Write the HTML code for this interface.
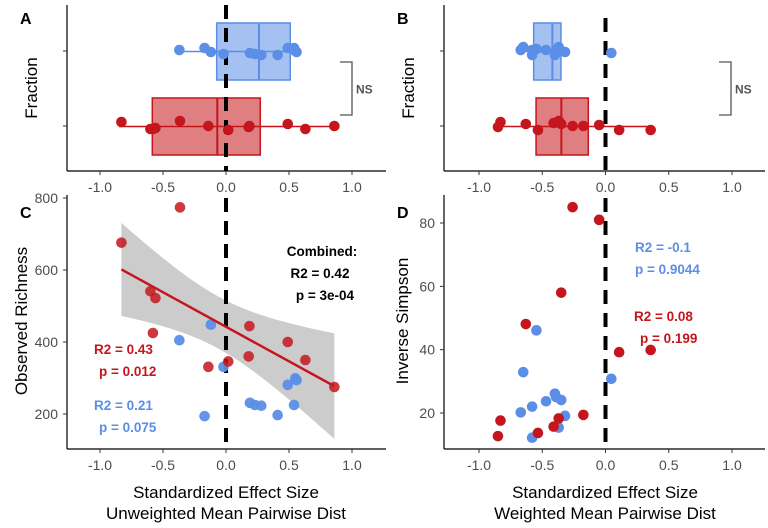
<!DOCTYPE html>
<html><head><meta charset="utf-8"><style>
body{margin:0;background:#fff}
svg{display:block;font-family:"Liberation Sans",Arial,sans-serif}
.tk{font-size:14px;fill:#4d4d4d}
.ttl{font-size:17px;fill:#000}
.pl{font-size:16px;font-weight:bold;fill:#000}
.ann{font-size:13.5px;font-weight:bold}
</style></head><body>
<svg id="s" width="768" height="528" viewBox="0 0 768 528"></svg>
<script>
// Panel C data (unweighted)
const cRedX=[-0.83,-0.365,-0.60,-0.56,-0.58,-0.14,0.018,0.186,0.18,0.49,0.63,0.86];
const cRedY=[676,774,541,522,425,331,346,444,360,400,350,275];
const cBlueX=[-0.37,-0.12,-0.02,-0.17,0.19,0.23,0.28,0.41,0.54,0.49,0.55,0.56];
const cBlueY=[405,448,331,194,231,225,223,197,225,281,299,294];
// Panel D data (weighted)
const dRedX=[-0.26,-0.05,-0.35,-0.63,0.108,0.357,-0.175,-0.83,-0.85,-0.534,-0.41,-0.37];
const dRedY=[85.0,81.0,58.0,48.1,39.2,39.9,19.4,17.6,12.7,13.7,15.7,18.3];
const dBlueX=[-0.546,-0.65,0.046,-0.40,-0.39,-0.35,-0.47,-0.58,-0.67,-0.32,-0.37,-0.58];
const dBlueY=[46.1,32.9,30.8,26.1,25.0,24.1,23.7,22.0,20.2,19.1,15.4,12.2];
// strip jitter (px)
const aRedJ=[-4,-5,3,2,3,0,4,0,1,-2,3,0];
const aBlueJ=[-1,1,3,-3,2,3,4,4,-3,-3,0,1];
const bRedJ=[0,-1,-2,-2,4,4,0,-4,1,4,-3,-5];
const bBlueJ=[-2,-4,2,4,0,0,-1,-1,-1,1,-4,4];
// box stats [q1, median, q3, whiskerLo, whiskerHi]
const aBlueBox=[-0.074,0.262,0.51,-0.38,0.57];
const aRedBox=[-0.585,-0.069,0.272,-0.85,0.87];
const bBlueBox=[-0.568,-0.42,-0.352,-0.67,-0.32];
const bRedBox=[-0.549,-0.349,-0.136,-0.85,0.36];
const xTicks=[-1.0,-0.5,0.0,0.5,1.0];
const cYTicks=[200,400,600,800];
const dYTicks=[20,40,60,80];

const RED="#c4161c",BLUE="#5b8ee6";
const S=document.getElementById('s'),NS="http://www.w3.org/2000/svg";
function el(t,a,txt){const e=document.createElementNS(NS,t);for(const k in a)e.setAttribute(k,a[k]);if(txt!==undefined)e.textContent=txt;S.appendChild(e);return e;}
const xA=v=>226+126*v, xB=v=>605.5+126.5*v;
const yC=v=>414-(v-200)*(216/600), yD=v=>413-(v-20)*(190/60);

function axes(left,right,top,bottom,sx,name){
  let e=el('line',{x1:left,y1:top,x2:left,y2:bottom,stroke:'#000','stroke-width':1.2});
  
  e=el('line',{x1:left,y1:bottom,x2:right,y2:bottom,stroke:'#000','stroke-width':1.2});
  
  xTicks.forEach(t=>{const x=sx(t);
    el('line',{x1:x,y1:bottom,x2:x,y2:bottom+4,stroke:'#333'});
    e=el('text',{x:x,y:bottom+21,'text-anchor':'middle',class:'tk'},t.toFixed(1));
    });
}
function zero(x,top,bottom){const e=el('line',{x1:x,y1:top,x2:x,y2:bottom,stroke:'#000','stroke-width':4,'stroke-dasharray':'14 9'});
  }
function pt(x,y,c,name,op){const e=el('circle',{cx:x,cy:y,r:5.3,fill:c,'fill-opacity':op||1});
  }
function box(b,sx,yt,yb,fill,c,name){
  const ym=(yt+yb)/2;
  let e=el('line',{x1:sx(b[3]),y1:ym,x2:sx(b[4]),y2:ym,stroke:c,'stroke-width':1.5});
  
  e=el('rect',{x:sx(b[0]),y:yt,width:sx(b[2])-sx(b[0]),height:yb-yt,fill:fill,'fill-opacity':0.55,stroke:c,'stroke-width':1.5});
  
  e=el('line',{x1:sx(b[1]),y1:yt,x2:sx(b[1]),y2:yb,stroke:c,'stroke-width':2});
  
}
function bracket(x,t,b,name){const e=el('path',{d:`M${x} ${t}H${x+12}V${b}H${x}`,fill:'none',stroke:'#555','stroke-width':1.3});
  
  const t2=el('text',{x:x+16,y:(t+b)/2+5,'font-size':12,'font-weight':'bold',fill:'#555'},'NS');
  }
function txt(x,y,s,cls,name,extra){const e=el('text',Object.assign({x:x,y:y,class:cls},extra||{}),s);
  return e;}

// ---------- Panel A ----------
axes(67,386,5,171,xA,'panel-a');
[51,126].forEach(y=>el('line',{x1:63,y1:y,x2:67,y2:y,stroke:'#333'}));
box(aBlueBox,xA,23,80,BLUE,BLUE,'panel-a-blue');
box(aRedBox,xA,98,155,RED,RED,'panel-a-red');
zero(xA(0),5,171);
cBlueX.forEach((v,i)=>pt(xA(v),51+aBlueJ[i],BLUE,'panel-a-blue-point'));
cRedX.forEach((v,i)=>pt(xA(v),126+aRedJ[i],RED,'panel-a-red-point'));
bracket(340,62,115,'panel-a');
txt(20,24,'A','pl','panel-a-label');
txt(0,0,'Fraction','ttl','panel-a-y-title',{transform:'translate(37,88) rotate(-90)','text-anchor':'middle'});

// ---------- Panel B ----------
axes(444,765,5,171,xB,'panel-b');
[51,126].forEach(y=>el('line',{x1:440,y1:y,x2:444,y2:y,stroke:'#333'}));
box(bBlueBox,xB,23,80,BLUE,BLUE,'panel-b-blue');
box(bRedBox,xB,98,155,RED,RED,'panel-b-red');
zero(xB(0),18,171);
dBlueX.forEach((v,i)=>pt(xB(v),51+bBlueJ[i],BLUE,'panel-b-blue-point'));
dRedX.forEach((v,i)=>pt(xB(v),126+bRedJ[i],RED,'panel-b-red-point'));
bracket(719,62,115,'panel-b');
txt(397,24,'B','pl','panel-b-label');
txt(0,0,'Fraction','ttl','panel-b-y-title',{transform:'translate(414,88) rotate(-90)','text-anchor':'middle'});

// ---------- Panel C ----------
(function(){
  const X=cRedX,Y=cRedY,n=X.length;
  const mx=X.reduce((a,b)=>a+b)/n,my=Y.reduce((a,b)=>a+b)/n;
  let sxx=0,sxy=0;X.forEach((x,i)=>{sxx+=(x-mx)**2;sxy+=(x-mx)*(Y[i]-my);});
  const b1=sxy/sxx,b0=my-b1*mx;let sse=0;X.forEach((x,i)=>{sse+=(Y[i]-b0-b1*x)**2;});
  const s=Math.sqrt(sse/(n-2)),t=2.228;
  const lo=Math.min(...X),hi=Math.max(...X);const up=[],dn=[];
  for(let k=0;k<=40;k++){const x=lo+(hi-lo)*k/40,f=b0+b1*x,h=t*s*Math.sqrt(1/n+(x-mx)**2/sxx);
    up.push(xA(x)+','+yC(f+h));dn.unshift(xA(x)+','+yC(f-h));}
  let e=el('polygon',{points:up.concat(dn).join(' '),fill:'#cccccc'});
  
  axes(67,386,195,449,xA,'panel-c');
  cYTicks.forEach(v=>{const y=yC(v);el('line',{x1:63,y1:y,x2:67,y2:y,stroke:'#333'});
    txt(58,y+5,v,'tk','panel-c-y-tick-label',{'text-anchor':'end'});});
  zero(xA(0),198,449);
  cBlueX.forEach((v,i)=>pt(xA(v),yC(cBlueY[i]),BLUE,'panel-c-blue-point',0.95));
  cRedX.forEach((v,i)=>pt(xA(v),yC(cRedY[i]),RED,'panel-c-red-point',0.85));
  e=el('line',{x1:xA(lo),y1:yC(b0+b1*lo),x2:xA(hi),y2:yC(b0+b1*hi),stroke:RED,'stroke-width':2.5});
  
})();
txt(322,256,'Combined:','ann','combined-label',{'text-anchor':'middle',fill:'#000'});
txt(320,278,'R2 = 0.42','ann','combined-r2',{'text-anchor':'middle',fill:'#000'});
txt(325,300,'p = 3e-04','ann','combined-p',{'text-anchor':'middle',fill:'#000'});
txt(94,354,'R2 = 0.43','ann','panel-c-red-r2',{fill:RED});
txt(99,376,'p = 0.012','ann','panel-c-red-p',{fill:RED});
txt(94,410,'R2 = 0.21','ann','panel-c-blue-r2',{fill:BLUE});
txt(99,432,'p = 0.075','ann','panel-c-blue-p',{fill:BLUE});
txt(20,218,'C','pl','panel-c-label');
txt(0,0,'Observed Richness','ttl','panel-c-y-title',{transform:'translate(27,321) rotate(-90)','text-anchor':'middle'});
txt(226,498,'Standardized Effect Size','ttl','panel-c-x-title',{'text-anchor':'middle'});
txt(226,519,'Unweighted Mean Pairwise Dist','ttl','panel-c-x-title-2',{'text-anchor':'middle'});

// ---------- Panel D ----------
axes(444,765,195,449,xB,'panel-d');
dYTicks.forEach(v=>{const y=yD(v);el('line',{x1:440,y1:y,x2:444,y2:y,stroke:'#333'});
  txt(435,y+5,v,'tk','panel-d-y-tick-label',{'text-anchor':'end'});});
zero(xB(0),198,449);
dBlueX.forEach((v,i)=>pt(xB(v),yD(dBlueY[i]),BLUE,'panel-d-blue-point'));
dRedX.forEach((v,i)=>pt(xB(v),yD(dRedY[i]),RED,'panel-d-red-point'));
txt(635,252,'R2 = -0.1','ann','panel-d-blue-r2',{fill:BLUE});
txt(635,274,'p = 0.9044','ann','panel-d-blue-p',{fill:BLUE});
txt(634,321,'R2 = 0.08','ann','panel-d-red-r2',{fill:RED});
txt(640,343,'p = 0.199','ann','panel-d-red-p',{fill:RED});
txt(397,218,'D','pl','panel-d-label');
txt(0,0,'Inverse Simpson','ttl','panel-d-y-title',{transform:'translate(408,321) rotate(-90)','text-anchor':'middle'});
txt(605,498,'Standardized Effect Size','ttl','panel-d-x-title',{'text-anchor':'middle'});
txt(605,519,'Weighted Mean Pairwise Dist','ttl','panel-d-x-title-2',{'text-anchor':'middle'});
</script>
</body></html>
